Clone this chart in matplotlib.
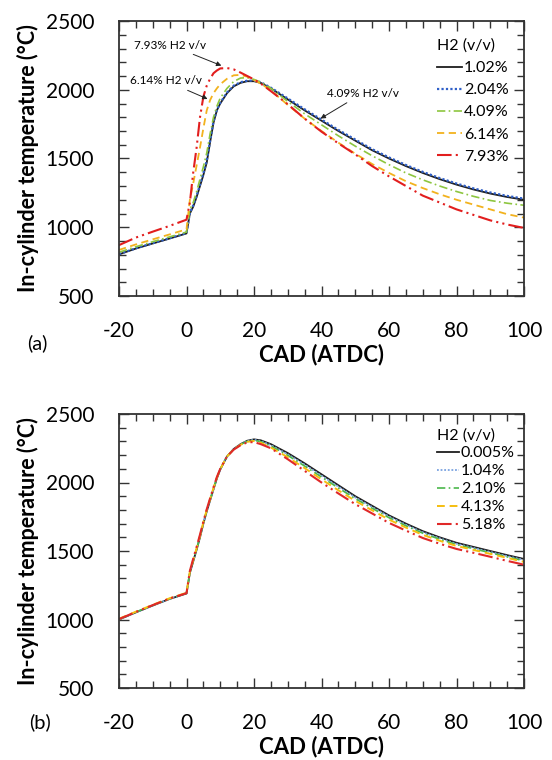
import matplotlib
matplotlib.use("Agg")
import matplotlib.pyplot as plt
from matplotlib.ticker import MultipleLocator

plt.rcParams['font.family'] = ['Lato', 'DejaVu Sans']
plt.rcParams['axes.unicode_minus'] = False

# ---------------- data: panel (a) ----------------
cad = [-20, -15, -10, -5, 0, 1, 2, 3, 4, 5, 6, 7, 8, 9, 10, 12, 14, 16, 18, 20,
       22, 25, 30, 35, 40, 45, 50, 55, 60, 65, 70, 75, 80, 85, 90, 95, 100]

a_labels = ["1.02%", "2.04%", "4.09%", "6.14%", "7.93%"]
a_102 = [803, 845, 882, 918, 955, 1100, 1150, 1220, 1300, 1380, 1470, 1620, 1760, 1850, 1900,
         1975, 2025, 2050, 2062, 2062, 2050, 2010, 1930, 1850, 1775, 1700, 1630, 1560, 1500,
         1445, 1395, 1350, 1310, 1275, 1245, 1220, 1200]
a_204 = [805, 847, 884, 920, 958, 1105, 1160, 1230, 1310, 1395, 1485, 1630, 1770, 1855, 1905,
         1980, 2030, 2055, 2066, 2066, 2055, 2015, 1937, 1858, 1783, 1708, 1638, 1568, 1508,
         1453, 1403, 1358, 1318, 1283, 1253, 1228, 1208]
a_409 = [818, 858, 895, 930, 965, 1130, 1180, 1260, 1350, 1440, 1540, 1680, 1800, 1880, 1940,
         2010, 2060, 2085, 2088, 2075, 2055, 2010, 1915, 1825, 1745, 1665, 1590, 1520, 1455,
         1395, 1345, 1300, 1260, 1225, 1195, 1175, 1160]
a_614 = [835, 875, 912, 948, 985, 1200, 1320, 1450, 1580, 1720, 1850, 1925, 1975, 2010, 2040,
         2080, 2105, 2108, 2095, 2070, 2045, 1995, 1890, 1790, 1700, 1615, 1535, 1460, 1395,
         1335, 1285, 1240, 1200, 1165, 1130, 1095, 1070]
a_793 = [870, 925, 968, 1010, 1055, 1180, 1400, 1580, 1800, 1950, 2030, 2080, 2120, 2140, 2155,
         2158, 2148, 2125, 2100, 2075, 2045, 1990, 1895, 1790, 1695, 1610, 1530, 1445, 1370,
         1300, 1230, 1180, 1130, 1090, 1050, 1020, 995]

# ---------------- data: panel (b) ----------------
b_labels = ["0.005%", "1.04%", "2.10%", "4.13%", "5.18%"]
b_0005 = [1000, 1052, 1102, 1150, 1190, 1340, 1425, 1510, 1600, 1700, 1790, 1870, 1950, 2030, 2095,
          2190, 2245, 2280, 2305, 2315, 2308, 2280, 2215, 2140, 2060, 1980, 1900, 1830, 1760,
          1700, 1645, 1600, 1560, 1530, 1500, 1470, 1442]
b_104 = [1000, 1052, 1102, 1150, 1190, 1342, 1427, 1512, 1602, 1702, 1792, 1872, 1952, 2032, 2096,
         2190, 2244, 2279, 2303, 2312, 2303, 2273, 2206, 2130, 2050, 1970, 1891, 1821, 1752,
         1692, 1637, 1593, 1553, 1523, 1493, 1463, 1435]
b_210 = [1002, 1054, 1104, 1152, 1192, 1345, 1430, 1515, 1605, 1705, 1795, 1875, 1955, 2034, 2097,
         2190, 2243, 2277, 2300, 2308, 2298, 2266, 2198, 2120, 2040, 1960, 1882, 1812, 1743,
         1684, 1630, 1586, 1547, 1517, 1487, 1457, 1428]
b_413 = [1005, 1057, 1107, 1155, 1195, 1350, 1435, 1520, 1610, 1710, 1800, 1880, 1960, 2036, 2098,
         2190, 2242, 2275, 2297, 2303, 2290, 2255, 2185, 2105, 2023, 1943, 1866, 1797, 1729,
         1671, 1618, 1575, 1537, 1508, 1479, 1450, 1420]
b_518 = [1003, 1055, 1105, 1153, 1192, 1355, 1445, 1530, 1620, 1715, 1805, 1885, 1965, 2040, 2100,
         2190, 2240, 2272, 2293, 2295, 2280, 2250, 2170, 2085, 2000, 1920, 1842, 1774, 1705,
         1649, 1595, 1553, 1515, 1487, 1458, 1428, 1400]

# ---------------- styles ----------------
a_styles = [dict(color="#1e1e1e", ls="-", lw=1.3),
            dict(color="#2f5fc8", ls=(0, (1, 1)), lw=1.6),
            dict(color="#8dc63f", ls=(0, (5, 2, 1, 2)), lw=1.2),
            dict(color="#f2b21e", ls=(0, (4, 2.5)), lw=1.3),
            dict(color="#e21e1e", ls=(0, (7, 2, 1, 2, 1, 2)), lw=1.5)]
b_styles = [dict(color="#1e1e1e", ls="-", lw=1.3),
            dict(color="#7aa2e0", ls=(0, (1, 1)), lw=1.3),
            dict(color="#4cb84c", ls=(0, (5, 2, 1, 2)), lw=1.2),
            dict(color="#f5be10", ls=(0, (4, 2.5)), lw=1.4),
            dict(color="#e02828", ls=(0, (7, 2, 1, 2, 1, 2)), lw=1.5)]

W, H = 552, 760
fig = plt.figure(figsize=(W / 100, H / 100), dpi=100)


def make_axes(top_px, bot_px):
    left, right = 119, 524
    return fig.add_axes([left / W, 1 - bot_px / H, (right - left) / W, (bot_px - top_px) / H])


def style_axes(ax):
    ax.set_xlim(-20, 100)
    ax.set_ylim(500, 2500)
    ax.xaxis.set_major_locator(MultipleLocator(20))
    ax.xaxis.set_minor_locator(MultipleLocator(5))
    ax.yaxis.set_major_locator(MultipleLocator(500))
    ax.yaxis.set_minor_locator(MultipleLocator(100))
    ax.tick_params(which="both", direction="in", top=True, right=True, color="#333333", width=1.0)
    ax.tick_params(which="major", length=7, labelsize=15)
    ax.tick_params(axis="x", which="major", pad=18)
    ax.tick_params(axis="y", which="major", pad=18)
    ax.tick_params(which="minor", length=5)
    for s in ax.spines.values():
        s.set_linewidth(1.3)
        s.set_color("#333333")
    ax.set_xlabel("CAD (ATDC)", fontsize=16, fontweight="bold", labelpad=2)
    ax.set_ylabel("In-cylinder temperature (°C)", fontsize=15.5, fontweight="bold", labelpad=5)


# Panel (a)
axa = make_axes(21, 296)
for ys, lab, st in zip([a_102, a_204, a_409, a_614, a_793], a_labels, a_styles):
    axa.plot(cad, ys, label=lab, **st)
style_axes(axa)
axa.legend(title="H2 (v/v)", loc="upper left", bbox_to_anchor=(0.765, 0.965),
           frameon=False, fontsize=11.5, title_fontsize=11.5, handlelength=1.6,
           handletextpad=0.1, labelspacing=0.5, borderpad=0, alignment="left")
arrow = dict(arrowstyle="-|>", color="#222222", lw=0.7, mutation_scale=7)
axa.annotate("7.93% H2 v/v", xy=(11.1, 2168), xytext=(-4.9, 2325), fontsize=8.5,
             ha="center", va="center", arrowprops=arrow)
axa.annotate("6.14% H2 v/v", xy=(7.0, 1925), xytext=(-6.1, 2064), fontsize=8.5,
             ha="center", va="center", arrowprops=arrow)
axa.annotate("4.09% H2 v/v", xy=(39.0, 1780), xytext=(52.3, 1976), fontsize=8.5,
             ha="center", va="center", arrowprops=arrow)
fig.text(37 / W, 1 - 343 / H, "(a)", fontsize=14.5, ha="center", va="center")

# Panel (b)
axb = make_axes(414, 688)
for ys, lab, st in zip([b_0005, b_104, b_210, b_413, b_518], b_labels, b_styles):
    axb.plot(cad, ys, label=lab, **st)
style_axes(axb)
axb.legend(title="H2 (v/v)", loc="upper left", bbox_to_anchor=(0.765, 0.978),
           frameon=False, fontsize=11.5, title_fontsize=11.5, handlelength=1.4,
           handletextpad=0.1, labelspacing=0.24, borderpad=0, alignment="left")
fig.text(40 / W, 1 - 722 / H, "(b)", fontsize=14.5, ha="center", va="center")

fig.savefig("out.png", dpi=100)
